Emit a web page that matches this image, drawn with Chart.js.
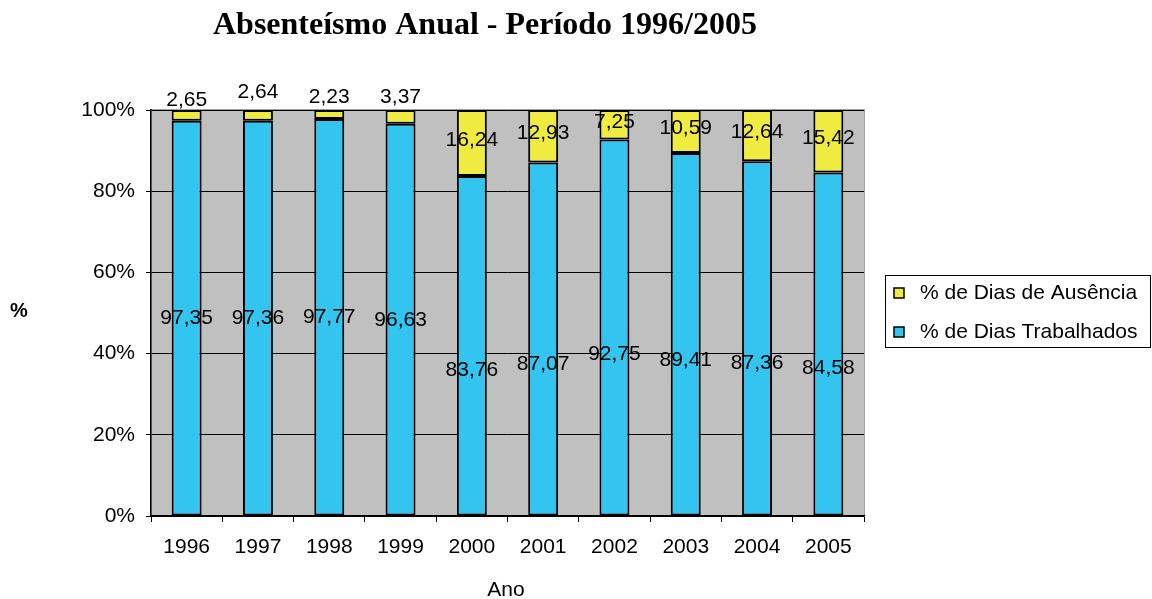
<!DOCTYPE html>
<html>
<head>
<meta charset="utf-8">
<script src="https://cdn.jsdelivr.net/npm/chart.js@4.4.0/dist/chart.umd.min.js"></script>
<style>
html,body{margin:0;padding:0;background:#fff;}
#wrap{width:1152px;height:599px;position:relative;}
</style>
</head>
<body>
<div id="wrap"><canvas id="c" width="1152" height="599"></canvas></div>
<script>
const years = ['1996','1997','1998','1999','2000','2001','2002','2003','2004','2005'];
const diasTrabalhados = [97.35, 97.36, 97.77, 96.63, 83.76, 87.07, 92.75, 89.41, 87.36, 84.58];
const diasAusencia = [2.65, 2.64, 2.23, 3.37, 16.24, 12.93, 7.25, 10.59, 12.64, 15.42];
const yTicks = [0, 20, 40, 60, 80, 100];

const FONT = '"Liberation Sans", Arial, sans-serif';
const fmt = v => v.toFixed(2).replace('.', ',');

const bgPlugin = {
  id: 'bg',
  beforeDraw(chart) {
    const {ctx, chartArea: a} = chart;
    ctx.save();
    ctx.fillStyle = '#C0C0C0';
    ctx.fillRect(a.left, a.top, a.right - a.left, a.bottom - a.top);
    ctx.strokeStyle = '#A0A0A0';
    ctx.lineWidth = 1;
    ctx.strokeRect(a.left + 0.5, a.top - 0.5, a.right - a.left, a.bottom - a.top);
    ctx.restore();
  }
};

const labelPlugin = {
  id: 'labels',
  afterDatasetsDraw(chart) {
    const {ctx} = chart;
    const y = chart.scales.y;
    ctx.save();
    ctx.font = '21px ' + FONT;
    ctx.fillStyle = '#000';
    ctx.textAlign = 'center';
    ctx.textBaseline = 'middle';
    const m0 = chart.getDatasetMeta(0);
    years.forEach((yr, i) => {
      const x = m0.data[i].x;
      const w = diasTrabalhados[i];
      const a = diasAusencia[i];
      const f = i < 4 ? 0.5 : 0.43;
      ctx.fillText(fmt(w), x, y.getPixelForValue(w * f));
      let ly;
      if (a < 5) ly = y.getPixelForValue(100) - 10 - (i === 1 ? 8 : 0) - (i === 2 || i === 3 ? 3 : 0);
      else ly = y.getPixelForValue(w + a / 2) - 3;
      ctx.fillText(fmt(a), x, ly);
    });
    ctx.restore();
  }
};

const textPlugin = {
  id: 'texts',
  afterDraw(chart) {
    const {ctx} = chart;
    ctx.save();
    ctx.fillStyle = '#000';
    ctx.textAlign = 'center';
    ctx.textBaseline = 'alphabetic';
    ctx.font = 'bold 32px "Liberation Serif", "Times New Roman", serif';
    ctx.fillText('Absenteísmo Anual - Período 1996/2005', 485, 34);
    ctx.font = 'bold 20px ' + FONT;
    ctx.textBaseline = 'middle';
    ctx.fillText('%', 19, 311);
    ctx.font = '21px ' + FONT;
    ctx.fillText('Ano', 506, 590);
    // legend
    const lx = 885, ly = 275, lw = 265, lh = 72;
    ctx.fillStyle = '#fff';
    ctx.fillRect(lx, ly, lw, lh);
    ctx.strokeStyle = '#000';
    ctx.lineWidth = 1;
    ctx.strokeRect(lx + 0.5, ly + 0.5, lw, lh);
    const items = [chart.data.datasets[1], chart.data.datasets[0]];
    items.forEach((ds, k) => {
      const cy = ly + 18 + k * 39;
      ctx.fillStyle = ds.backgroundColor;
      ctx.fillRect(894, cy - 5, 10, 10);
      ctx.strokeStyle = '#000';
      ctx.lineWidth = 1.5;
      ctx.strokeRect(894, cy - 5, 10, 10);
      ctx.fillStyle = '#000';
      ctx.textAlign = 'left';
      ctx.font = '21px ' + FONT;
      ctx.fillText(ds.label, 920, cy);
    });
    ctx.restore();
  }
};

new Chart(document.getElementById('c'), {
  type: 'bar',
  data: {
    labels: years,
    datasets: [
      { label: '% de Dias Trabalhados', data: diasTrabalhados, backgroundColor: '#33C4F0', borderColor: '#000', borderWidth: 2, borderSkipped: false },
      { label: '% de Dias de Ausência', data: diasAusencia, backgroundColor: '#F0EB40', borderColor: '#000', borderWidth: 2, borderSkipped: false }
    ]
  },
  options: {
    responsive: false,
    animation: false,
    layout: { padding: { left: 0, right: 288, top: 110, bottom: 0 } },
    plugins: { legend: { display: false }, title: { display: false }, tooltip: { enabled: false } },
    datasets: { bar: { barPercentage: 0.42, categoryPercentage: 1 } },
    scales: {
      x: {
        stacked: true,
        grid: { drawOnChartArea: false, drawTicks: true, tickLength: 6, color: '#000', offset: true },
        border: { color: '#000', width: 1.5 },
        ticks: { color: '#000', font: { size: 21, family: FONT }, padding: 13, maxRotation: 0 },
        afterFit(s) { s.height = 83; }
      },
      y: {
        stacked: true,
        min: 0, max: 100,
        afterBuildTicks(s) { s.ticks = yTicks.map(v => ({ value: v })); },
        grid: { color: '#000', lineWidth: 1, tickLength: 5 },
        border: { color: '#000', width: 1.5 },
        ticks: { color: '#000', font: { size: 21, family: FONT }, padding: 11, callback: v => v + '%' },
        afterFit(s) { s.width = 151; }
      }
    }
  },
  plugins: [bgPlugin, labelPlugin, textPlugin]
});
</script>
</body>
</html>
